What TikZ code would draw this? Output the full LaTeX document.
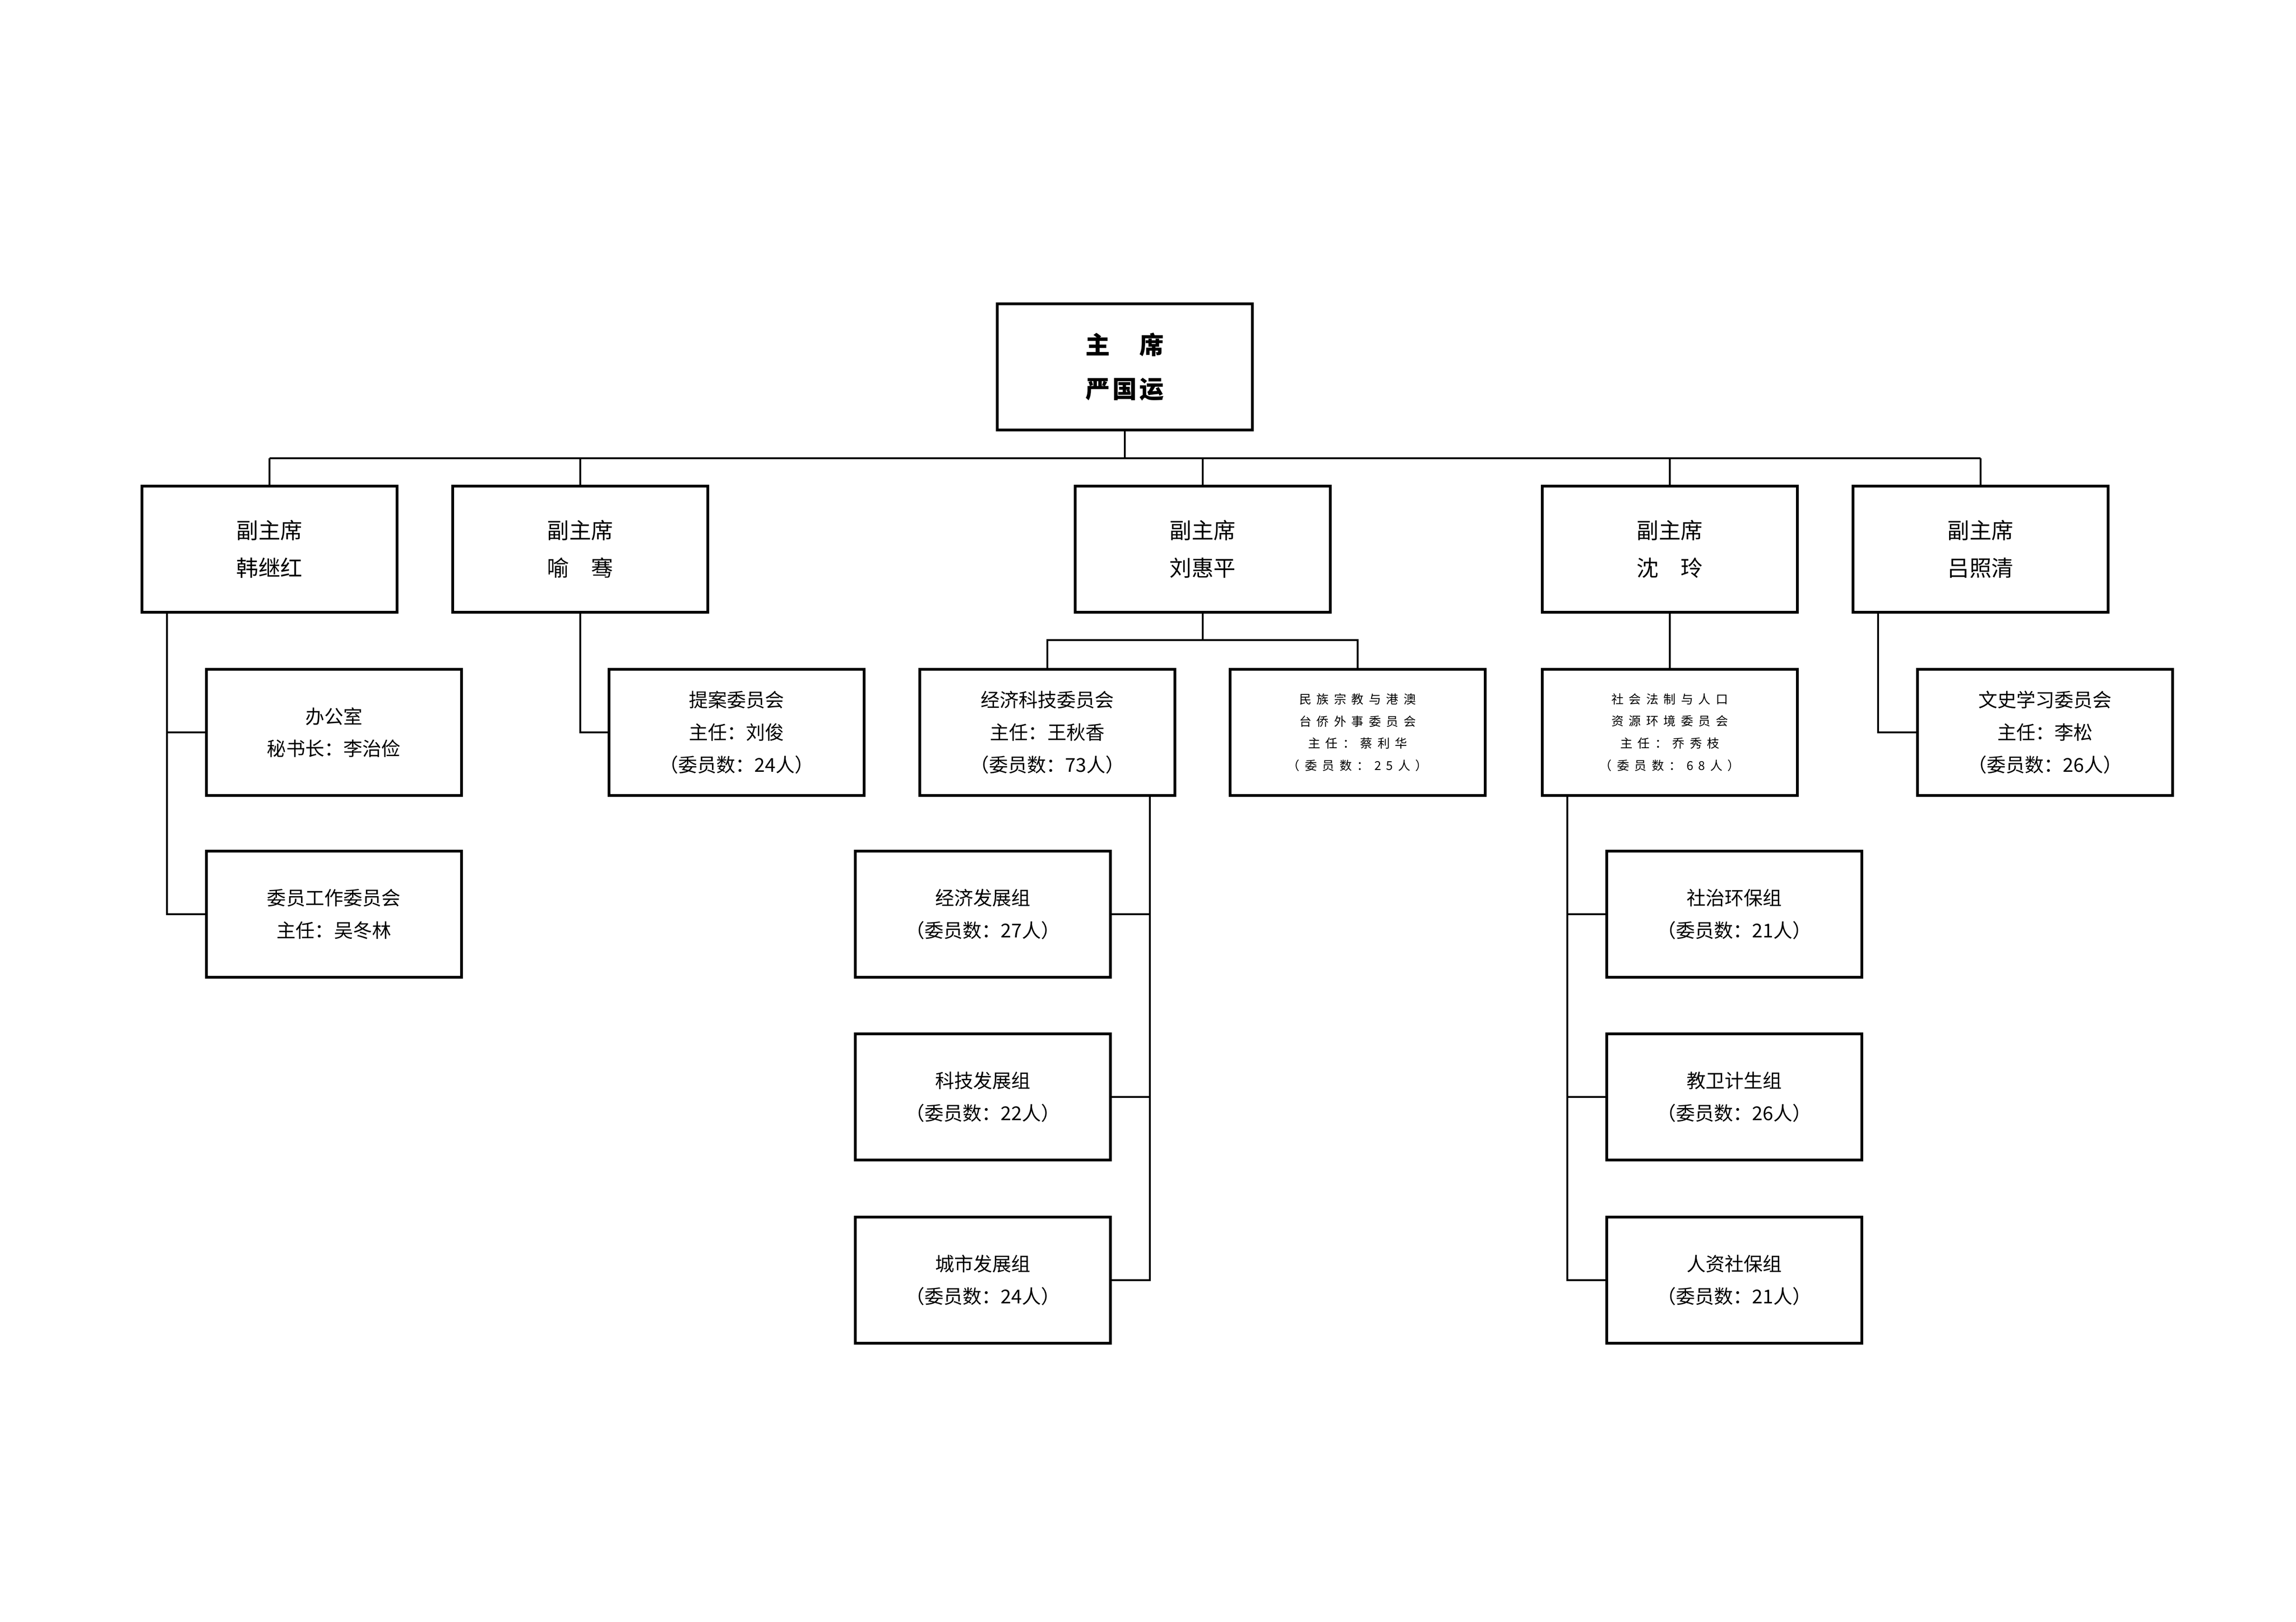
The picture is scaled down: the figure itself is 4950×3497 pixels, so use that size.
\documentclass[tikz,border=0pt]{standalone}
\usepackage{fontspec}
\setmainfont{Noto Sans CJK SC}
\newfontfamily\cjktop[LetterSpace=10]{Noto Sans CJK SC}
\newfontfamily\cjktiny[LetterSpace=42]{Noto Sans CJK SC}
\begin{document}
\begin{tikzpicture}[x=0.01cm,y=-0.01cm]
\tikzset{
  box/.style={draw, line width=1.6pt, minimum width=5.5cm, minimum height=2.72cm, inner sep=0pt, align=center},
  topbox/.style={box, font=\cjktop\bfseries\fontsize{15pt}{27pt}\selectfont},
  vbox/.style={box, font=\fontsize{13.5pt}{23pt}\selectfont},
  cbox/.style={box, font=\fontsize{11.7pt}{19.8pt}\selectfont},
  tbox/.style={box, font=\cjktiny\fontsize{7.5pt}{13.6pt}\selectfont},
  link/.style={line width=1pt},
}
\useasboundingbox[fill=white] (0,0) rectangle (4950,3497);

% top
\node[topbox] (top) at (2425,791) {主　席\\严国运};

% vice chairs
\node[vbox] (v1) at (581,1184)  {副主席\\韩继红};
\node[vbox] (v2) at (1251,1184) {副主席\\喻　骞};
\node[vbox] (v3) at (2593,1184) {副主席\\刘惠平};
\node[vbox] (v4) at (3600,1184) {副主席\\沈　玲};
\node[vbox] (v5) at (4270,1184) {副主席\\吕照清};

% level 3
\node[cbox] (c1) at (720,1579)  {办公室\\秘书长：李治俭};
\node[cbox] (c2) at (1588,1579) {提案委员会\\主任：刘俊\\（委员数：24人）};
\node[cbox] (c3) at (2258,1579) {经济科技委员会\\主任：王秋香\\（委员数：73人）};
\node[tbox] (c4) at (2927,1579) {民族宗教与港澳\\台侨外事委员会\\主任：蔡利华\\（委员数：25人）};
\node[tbox] (c5) at (3600,1579) {社会法制与人口\\资源环境委员会\\主任：乔秀枝\\（委员数：68人）};
\node[cbox] (c6) at (4409,1579) {文史学习委员会\\主任：李松\\（委员数：26人）};

% level 4
\node[cbox] (w1) at (720,1971)  {委员工作委员会\\主任：吴冬林};
\node[cbox] (g1) at (2119,1971) {经济发展组\\（委员数：27人）};
\node[cbox] (g2) at (2119,2365) {科技发展组\\（委员数：22人）};
\node[cbox] (g3) at (2119,2760) {城市发展组\\（委员数：24人）};
\node[cbox] (h1) at (3739,1971) {社治环保组\\（委员数：21人）};
\node[cbox] (h2) at (3739,2365) {教卫计生组\\（委员数：26人）};
\node[cbox] (h3) at (3739,2760) {人资社保组\\（委员数：21人）};

% helper coordinates
\coordinate (busL) at (581,988);
\coordinate (busR) at (4270,988);
\coordinate (hanT) at (360,0);
\coordinate (ecoT) at (2479,0);
\coordinate (socT) at (3379,0);
\coordinate (luT)  at (4049,0);
\coordinate (liuJ) at (2593,1380);

% top to bus
\draw[link] (top.south) -- (top.south |- busL);
\draw[link] (busL) -- (busR);
\foreach \v in {v1,v2,v3,v4,v5} \draw[link] (\v.north) -- (\v.north |- busL);

% Han
\draw[link] (v1.south -| hanT) |- (w1.west);
\draw[link] (c1.west -| hanT) -- (c1.west);
% Yu
\draw[link] (v2.south) |- (c2.west);
% Liu
\draw[link] (v3.south) -- (liuJ);
\draw[link] (c3.north) |- (liuJ) -| (c4.north);
\draw[link] (c3.south -| ecoT) |- (g3.east);
\draw[link] (g1.east) -- (g1.east -| ecoT);
\draw[link] (g2.east) -- (g2.east -| ecoT);
% Shen
\draw[link] (v4.south) -- (c5.north);
\draw[link] (c5.south -| socT) |- (h3.west);
\draw[link] (h1.west) -- (h1.west -| socT);
\draw[link] (h2.west) -- (h2.west -| socT);
% Lu
\draw[link] (v5.south -| luT) |- (c6.west);
\end{tikzpicture}
\end{document}
